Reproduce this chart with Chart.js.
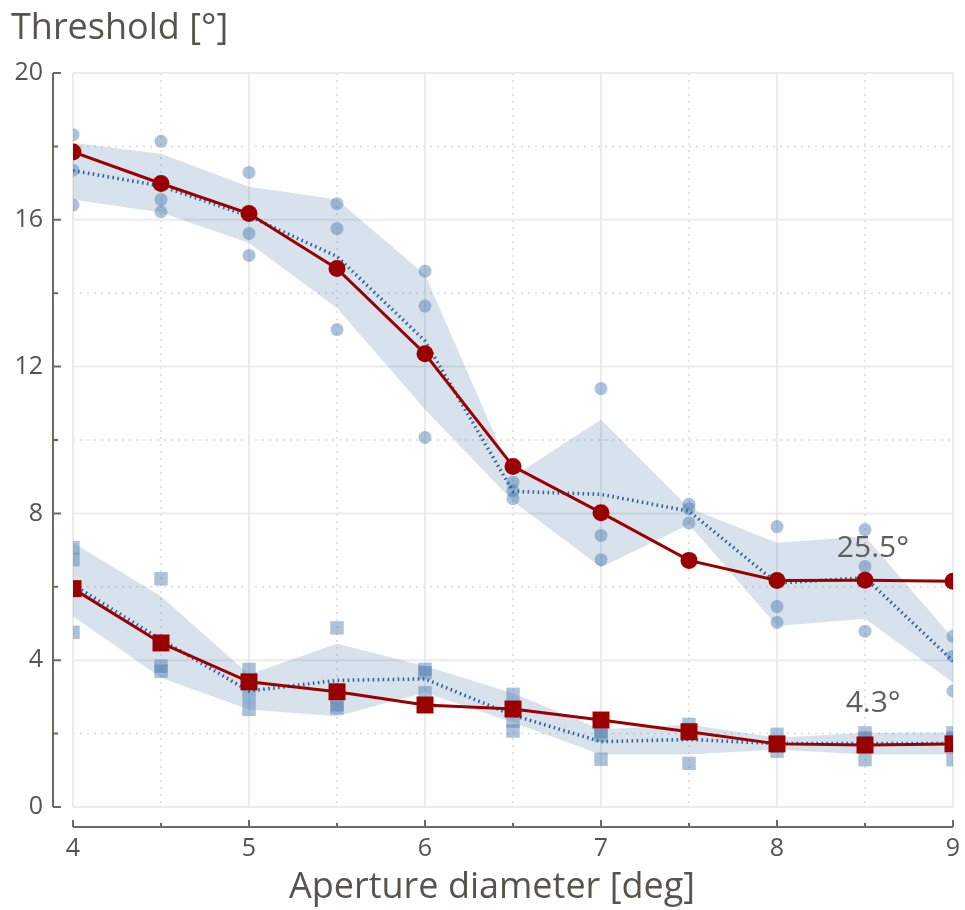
<!DOCTYPE html>
<html>
<head>
<meta charset="utf-8">
<title>Threshold vs aperture diameter</title>
<script src="https://cdn.jsdelivr.net/npm/chart.js@4.4.1/dist/chart.umd.min.js"></script>
<style>
  html, body { margin: 0; padding: 0; background: #fff; overflow: hidden; }
  canvas { display: block; }
</style>
</head>
<body>
<canvas id="thresholdChart" width="965" height="910"></canvas>
<script>
const apertures = [4, 4.5, 5, 5.5, 6, 6.5, 7, 7.5, 8, 8.5, 9];
const xTicks = [4, 5, 6, 7, 8, 9];
const xMinor = [4.5, 5.5, 6.5, 7.5, 8.5];
const yTicks = [0, 4, 8, 12, 16, 20];
const yMinor = [2, 6, 10, 14, 18];

// 25.5° stimulus (circles)
const bigFit = [17.85, 16.99, 16.17, 14.67, 12.35, 9.28, 8.02, 6.72, 6.17, 6.18, 6.15];
const bigMean = [17.34, 16.92, 16.1, 15.0, 12.7, 8.6, 8.52, 8.06, 6.1, 6.25, 3.98];
const bigHi = [18.1, 17.8, 16.9, 16.55, 14.5, 9.0, 10.56, 8.15, 7.2, 7.37, 4.6];
const bigLo = [16.55, 16.2, 15.37, 13.6, 10.83, 8.33, 6.53, 7.7, 4.93, 5.13, 3.39];
const bigObs = [
  [18.32, 17.35, 16.4], [18.14, 16.55, 16.22], [17.29, 15.63, 15.03], [16.44, 15.76, 13.01],
  [14.6, 13.65, 10.07], [8.85, 8.62, 8.4], [11.4, 7.4, 6.74], [8.13, 7.74, 8.25],
  [7.64, 5.46, 5.03], [7.56, 6.55, 4.79], [4.65, 4.11, 3.16]
];

// 4.3° stimulus (squares)
const smallFit = [5.95, 4.47, 3.41, 3.14, 2.78, 2.67, 2.37, 2.05, 1.72, 1.69, 1.72];
const smallMean = [6.06, 4.56, 3.16, 3.45, 3.49, 2.5, 1.78, 1.84, 1.73, 1.73, 1.73];
const smallHi = [7.2, 5.74, 3.61, 4.45, 3.84, 3.1, 2.11, 2.25, 1.89, 2.02, 2.03];
const smallLo = [5.2, 3.52, 2.66, 2.47, 3.12, 2.3, 1.43, 1.43, 1.57, 1.43, 1.43];
const smallObs = [
  [7.07, 6.74, 4.76], [6.22, 3.84, 3.7], [3.75, 3.02, 2.66], [4.88, 2.79, 2.7],
  [3.75, 3.66, 3.11], [3.07, 2.34, 2.07], [2.05, 1.95, 1.3], [2.25, 2.11, 1.19],
  [1.98, 1.66, 1.52], [2.02, 1.88, 1.29], [2.02, 1.88, 1.29]
];

const RED = '#9a0000';
const BLUE = '#2e639b';
const BAND = 'rgba(60,110,165,0.2)';
const OBS = 'rgba(70,120,175,0.45)';
const INK = '#57544a';
const AXIS = '#6d6a60';

const pts = (ys) => apertures.map((x, i) => ({ x, y: ys[i] }));
const obsPts = (rows) => apertures.flatMap((x, i) => rows[i].map(y => ({ x, y })));

const fitLine = (ys, style, r) => ({
  data: pts(ys), borderColor: RED, backgroundColor: RED, borderWidth: 3,
  pointStyle: style, pointRadius: r, pointBorderWidth: 0, fill: false, order: 1
});
const meanLine = (ys) => ({
  data: pts(ys), borderColor: BLUE, borderWidth: 3.5, borderDash: [1.6, 3.4],
  pointRadius: 0, fill: false, order: 2
});
const obsSet = (rows, style, r) => ({
  type: 'scatter', data: obsPts(rows), showLine: false, backgroundColor: OBS,
  borderWidth: 0, pointStyle: style, pointRadius: r, order: 3
});
const bandEdge = (ys, fill) => ({
  data: pts(ys), borderWidth: 0, pointRadius: 0, backgroundColor: BAND, fill, order: 4
});

// grid, detached axes, titles and the two stimulus labels
const decor = {
  id: 'decor',
  beforeDatasetsDraw(chart) {
    const { ctx, chartArea: a, scales: { x, y } } = chart;
    ctx.save();
    ctx.lineWidth = 1.5;
    ctx.strokeStyle = '#d9d9d9';
    ctx.setLineDash([2, 5]);
    xMinor.forEach(v => { const px = x.getPixelForValue(v); ctx.beginPath(); ctx.moveTo(px, a.top); ctx.lineTo(px, a.bottom); ctx.stroke(); });
    yMinor.forEach(v => { const py = y.getPixelForValue(v); ctx.beginPath(); ctx.moveTo(a.left, py); ctx.lineTo(a.right, py); ctx.stroke(); });
    ctx.setLineDash([]);
    ctx.lineWidth = 2;
    ctx.strokeStyle = '#ebebeb';
    xTicks.forEach(v => { const px = x.getPixelForValue(v); ctx.beginPath(); ctx.moveTo(px, a.top); ctx.lineTo(px, a.bottom); ctx.stroke(); });
    yTicks.forEach(v => { const py = y.getPixelForValue(v); ctx.beginPath(); ctx.moveTo(a.left, py); ctx.lineTo(a.right, py); ctx.stroke(); });
    ctx.restore();
  },
  afterDraw(chart) {
    const { ctx, chartArea: a, scales: { x, y } } = chart;
    const ax = a.left - 20, ay = a.bottom + 20;
    ctx.save();
    ctx.strokeStyle = AXIS;
    ctx.lineWidth = 2;
    ctx.beginPath();
    ctx.moveTo(ax, y.getPixelForValue(20)); ctx.lineTo(ax, y.getPixelForValue(0));
    ctx.moveTo(x.getPixelForValue(4), ay); ctx.lineTo(x.getPixelForValue(9), ay);
    yTicks.forEach(v => { const py = y.getPixelForValue(v); ctx.moveTo(ax, py); ctx.lineTo(ax + 8, py); });
    yMinor.forEach(v => { const py = y.getPixelForValue(v); ctx.moveTo(ax, py); ctx.lineTo(ax + 5, py); });
    xTicks.forEach(v => { const px = x.getPixelForValue(v); ctx.moveTo(px, ay); ctx.lineTo(px, ay - 7); });
    xMinor.forEach(v => { const px = x.getPixelForValue(v); ctx.moveTo(px, ay); ctx.lineTo(px, ay - 4); });
    ctx.stroke();

    ctx.fillStyle = INK;
    ctx.font = '36px "Open Sans"';
    ctx.textBaseline = 'alphabetic';
    ctx.textAlign = 'left';
    ctx.fillText('Threshold [°]', 11, 39);
    ctx.textAlign = 'center';
    ctx.fillText('Aperture diameter [deg]', 492, 898);

    ctx.fillStyle = '#5f5e5a';
    ctx.font = '30px "Open Sans"';
    ctx.textAlign = 'left';
    ctx.fillText('25.5°', x.getPixelForValue(8.34), y.getPixelForValue(6.8));
    ctx.fillText('4.3°', x.getPixelForValue(8.39), y.getPixelForValue(2.58));
    ctx.restore();
  }
};

Chart.defaults.font.family = '"Open Sans"';

new Chart(document.getElementById('thresholdChart').getContext('2d'), {
  type: 'line',
  data: {
    datasets: [
      fitLine(bigFit, 'circle', 8.5),
      fitLine(smallFit, 'rect', 12),
      meanLine(bigMean),
      meanLine(smallMean),
      obsSet(bigObs, 'circle', 6.5),
      obsSet(smallObs, 'rect', 9.5),
      bandEdge(bigLo, false),
      bandEdge(bigHi, '-1'),
      bandEdge(smallLo, false),
      bandEdge(smallHi, '-1')
    ]
  },
  options: {
    responsive: false,
    animation: false,
    layout: { padding: { top: 73, right: 12, left: 0, bottom: 0 } },
    plugins: { legend: { display: false }, tooltip: { enabled: false } },
    elements: { line: { tension: 0 } },
    scales: {
      x: {
        type: 'linear', min: 4, max: 9,
        grid: { display: false, drawTicks: false }, border: { display: false },
        afterBuildTicks: s => { s.ticks = xTicks.map(value => ({ value })); },
        afterFit: s => { s.height = 103; s.paddingLeft = 0; s.paddingRight = 0; },
        ticks: { color: INK, font: { size: 25 }, padding: 27, maxRotation: 0 }
      },
      y: {
        type: 'linear', min: 0, max: 20,
        grid: { display: false, drawTicks: false }, border: { display: false },
        afterBuildTicks: s => { s.ticks = yTicks.map(value => ({ value })); },
        afterFit: s => { s.width = 73; s.paddingTop = 0; s.paddingBottom = 0; },
        ticks: { color: INK, font: { size: 25 }, padding: 30 }
      }
    }
  },
  plugins: [decor]
});
</script>
</body>
</html>
